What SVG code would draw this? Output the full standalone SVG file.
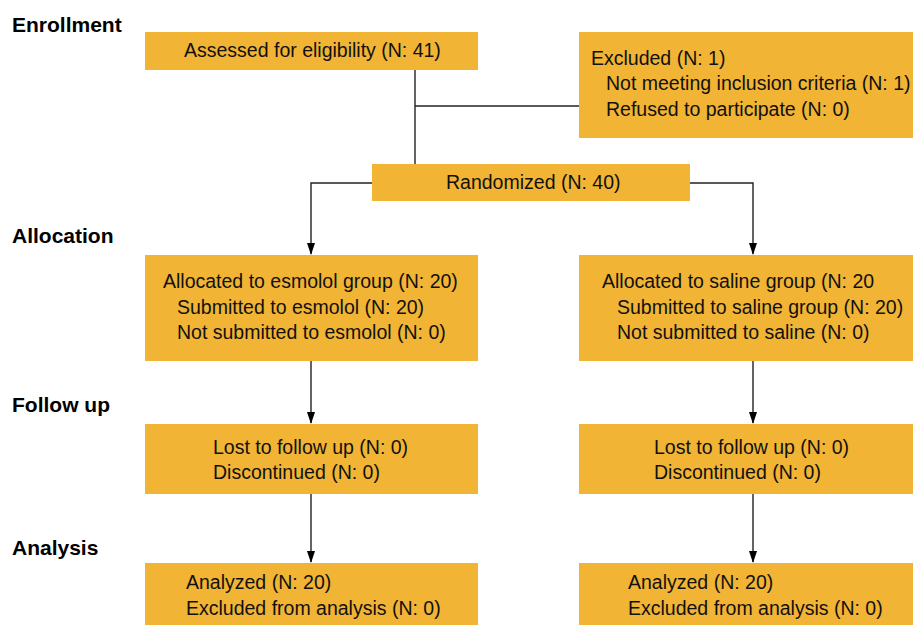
<svg xmlns="http://www.w3.org/2000/svg" width="913" height="625" viewBox="0 0 913 625">
<style>
.box{fill:#F1B434;stroke:none}
.t{font-family:"Liberation Sans",Arial,sans-serif;font-size:19.5px;fill:#111}
.h{font-family:"Liberation Sans",Arial,sans-serif;font-size:21px;font-weight:bold;fill:#000}
.c{fill:none;stroke:#222;stroke-width:1.4}
</style>
<rect width="913" height="625" fill="#fff"/>
<g id="headings">
<text class="h" x="12" y="32">Enrollment</text>
<text class="h" x="12" y="243">Allocation</text>
<text class="h" x="12" y="412">Follow up</text>
<text class="h" x="12" y="555">Analysis</text>
</g>
<g id="connectors">
<path class="c" d="M415,70 V164"/>
<path class="c" d="M415,106 H579"/>
<path class="c" d="M372,183 H311 V254"/>
<path class="c" d="M690,183 H753 V254"/>
<path class="c" d="M311,361 V423"/>
<path class="c" d="M753,361 V423"/>
<path class="c" d="M311,494 V562"/>
<path class="c" d="M753,494 V562"/>
<g fill="#000">
<path d="M307,243 L315,243 L311,255 Z"/>
<path d="M749,243 L757,243 L753,255 Z"/>
<path d="M307,412 L315,412 L311,424 Z"/>
<path d="M749,412 L757,412 L753,424 Z"/>
<path d="M307,551 L315,551 L311,563 Z"/>
<path d="M749,551 L757,551 L753,563 Z"/>
</g>
</g>
<g id="assessed">
<rect class="box" x="145" y="32" width="333" height="38"/>
<text class="t" x="184" y="57">Assessed for eligibility (N: 41)</text>
</g>
<g id="excluded">
<rect class="box" x="579" y="32" width="334" height="106"/>
<text class="t" x="591" y="65">Excluded (N: 1)</text>
<text class="t" x="606" y="90">Not meeting inclusion criteria (N: 1)</text>
<text class="t" x="606" y="116">Refused to participate (N: 0)</text>
</g>
<g id="randomized">
<rect class="box" x="372" y="164" width="318" height="37"/>
<text class="t" x="446" y="189">Randomized (N: 40)</text>
</g>
<g id="alloc-esmolol">
<rect class="box" x="145" y="255" width="333" height="106"/>
<text class="t" x="163" y="288">Allocated to esmolol group (N: 20)</text>
<text class="t" x="177" y="314">Submitted to esmolol (N: 20)</text>
<text class="t" x="177" y="339">Not submitted to esmolol (N: 0)</text>
</g>
<g id="alloc-saline">
<rect class="box" x="579" y="255" width="334" height="106"/>
<text class="t" x="602" y="288">Allocated to saline group (N: 20</text>
<text class="t" x="617" y="314">Submitted to saline group (N: 20)</text>
<text class="t" x="617" y="339">Not submitted to saline (N: 0)</text>
</g>
<g id="followup-esmolol">
<rect class="box" x="145" y="424" width="333" height="70"/>
<text class="t" x="213" y="454">Lost to follow up (N: 0)</text>
<text class="t" x="213" y="479">Discontinued (N: 0)</text>
</g>
<g id="followup-saline">
<rect class="box" x="579" y="424" width="334" height="70"/>
<text class="t" x="654" y="454">Lost to follow up (N: 0)</text>
<text class="t" x="654" y="479">Discontinued (N: 0)</text>
</g>
<g id="analysis-esmolol">
<rect class="box" x="145" y="563" width="333" height="62"/>
<text class="t" x="186" y="589">Analyzed (N: 20)</text>
<text class="t" x="186" y="615">Excluded from analysis (N: 0)</text>
</g>
<g id="analysis-saline">
<rect class="box" x="579" y="563" width="334" height="62"/>
<text class="t" x="628" y="589">Analyzed (N: 20)</text>
<text class="t" x="628" y="615">Excluded from analysis (N: 0)</text>
</g>
</svg>
